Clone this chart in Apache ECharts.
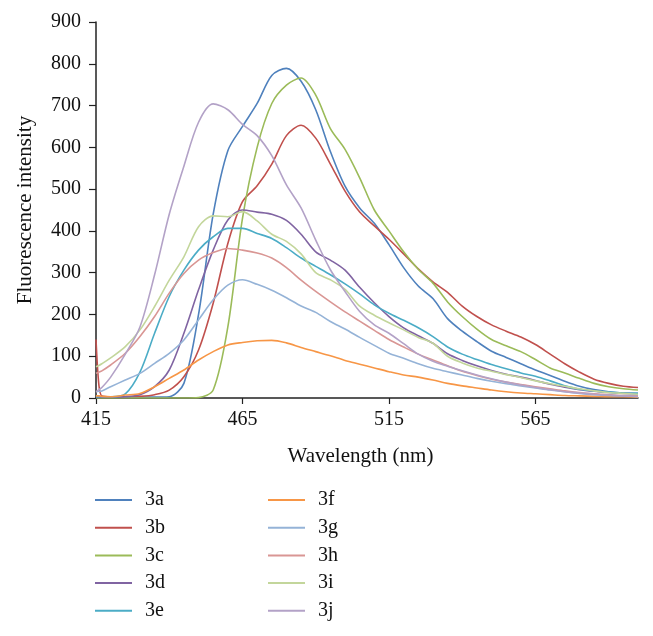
<!DOCTYPE html>
<html>
<head>
<meta charset="utf-8">
<script src="https://cdn.jsdelivr.net/npm/echarts@6/dist/echarts.min.js"></script>
<style>html,body{margin:0;padding:0;background:#fff;}#c{width:653px;height:636px;}</style>
</head>
<body>
<div id="c"></div>
<script>
const wavelengths = [415,416,417,420,425,430,435,440,445,450,455,460,465,470,475,480,485,490,495,500,505,510,515,520,525,530,535,540,545,550,555,560,565,570,575,580,585,590,595,600];
const xTickLabels = [415,465,515,565];
const seriesNames = ['3a','3b','3c','3d','3e','3f','3g','3h','3i','3j'];
const s3a = [3,3,2, 2,2,2,2,3,35,200,440,592,650,705,772,789,758,690,590,507,455,418,367,312,268,238,190,160,135,112,97,82,67,54,40,28,20,15,12,11];
const s3b = [140,30,5, 3,3,4,8,19,51,115,227,370,470,508,560,628,653,622,560,495,445,412,380,345,309,278,253,220,195,175,160,146,128,105,82,62,45,35,28,25];
const s3c = [0,0,0, 0,0,0,0,0,0,1,19,170,430,600,705,749,766,725,645,595,527,450,400,350,308,275,230,195,165,140,125,111,92,72,60,47,35,27,22,19];
const s3d = [2,2,2, 2,3,8,27,67,155,259,354,426,450,445,440,425,392,350,330,306,265,228,195,168,149,131,106,90,77,66,57,50,42,33,26,20,16,13,11,10];
const s3e = [3,3,3, 3,10,62,155,243,306,354,386,406,406,394,382,360,335,315,295,273,249,223,203,186,168,147,122,105,92,80,70,60,52,41,29,21,17,14,12,11];
const s3f = [5,5,4, 3,7,11,27,47,67,91,111,127,133,137,138,132,121,111,101,90,81,72,63,55,50,43,35,29,24,19,15,12,10,8,6,5,4,3,3,2];
const s3g = [15,16,17, 27,43,59,83,107,139,187,235,270,283,272,258,240,220,205,183,165,145,126,107,95,82,71,63,55,47,40,34,29,24,19,15,11,8,6,5,4];
const s3h = [59,62,65, 79,107,147,195,251,298,330,348,358,354,347,335,312,282,255,230,206,184,162,140,122,105,91,77,64,54,45,38,32,27,22,17,13,10,8,6,5];
const s3i = [75,78,82, 96,123,163,219,282,338,410,436,434,446,424,392,375,345,300,283,260,220,198,180,163,145,131,100,84,72,64,56,49,41,34,28,22,17,13,11,9];
const s3j = [15,20,25, 50,105,170,295,440,555,660,704,690,655,628,580,510,455,378,307,255,207,175,155,130,105,88,76,65,55,46,38,31,25,20,15,12,9,7,5,4];
const allValues = [s3a,s3b,s3c,s3d,s3e,s3f,s3g,s3h,s3i,s3j];
const colors = ['#4F81BD','#C0504D','#9BBB59','#8064A2','#4BACC6','#F79646','#95B3D7','#D99694','#C3D69B','#B3A2C7'];

const font = 'Liberation Serif';
const chart = echarts.init(document.getElementById('c'), null, {renderer:'canvas'});
const legendCommon = {
  orient: 'vertical', icon: 'rect', itemWidth: 37, itemHeight: 2, itemGap: 7.7, padding: 0,
  textStyle: {fontFamily: font, fontSize: 20, color: '#111', lineHeight: 20, padding: [0,0,0,8]},
  selectedMode: false
};
chart.setOption({
  animation: false,
  color: colors,
  grid: {left: 96, right: 15, top: 22, bottom: 238},
  legend: [
    Object.assign({data: seriesNames.slice(0,5), left: 95, top: 490}, legendCommon),
    Object.assign({data: seriesNames.slice(5), left: 268, top: 490}, legendCommon)
  ],
  xAxis: {
    type: 'value', min: 415, max: 600,
    name: 'Wavelength (nm)', nameLocation: 'middle', nameGap: 48,
    nameTextStyle: {fontFamily: font, fontSize: 21, color: '#111', padding: [0, 13, 0, 0]},
    axisLine: {show: true, lineStyle: {color: '#222', width: 1.5}},
    axisTick: {show: true, length: 6, lineStyle: {color: '#222', width: 1.2}, customValues: xTickLabels},
    axisLabel: {fontFamily: font, fontSize: 20, color: '#111', margin: 12, customValues: xTickLabels},
    splitLine: {show: false}
  },
  yAxis: {
    type: 'value', min: 0, max: 900, interval: 100,
    name: 'Fluorescence intensity', nameLocation: 'middle', nameGap: 60, nameRotate: 90,
    nameTextStyle: {fontFamily: font, fontSize: 21, color: '#111'},
    axisLine: {show: true, lineStyle: {color: '#222', width: 1.5}},
    axisTick: {show: true, length: 7, lineStyle: {color: '#222', width: 1.2}},
    axisLabel: {fontFamily: font, fontSize: 20, color: '#111', margin: 15},
    splitLine: {show: false}
  },
  series: seriesNames.map((n, i) => ({
    name: n, type: 'line', showSymbol: false, symbol: 'none', smooth: 0.3,
    lineStyle: {width: 1.6, color: colors[i]},
    itemStyle: {color: colors[i]},
    data: wavelengths.map((w, k) => [w, allValues[i][k]])
  }))
});
</script>
</body>
</html>
